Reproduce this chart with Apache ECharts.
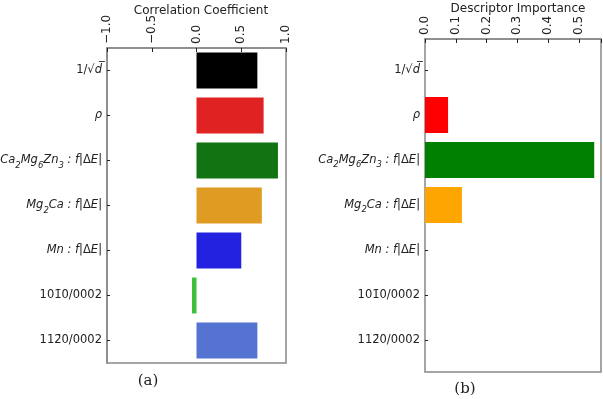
<!DOCTYPE html>
<html><head><meta charset="utf-8">
<script src="https://cdn.jsdelivr.net/npm/echarts@6/dist/echarts.min.js"></script>
<style>html,body{margin:0;padding:0;background:#fff}#c{width:603px;height:399px}</style>
</head><body><div id="c"></div>
<script>
const categories = ['invsqrtd','rho','ca2mg6zn3','mg2ca','mn','p1010','p1120'];
const categoryLabels = [
  '{n|1/√}{i|d̅}',
  '{i|ρ}',
  '{i|Ca}{s|2}{i|Mg}{s|6}{i|Zn}{s|3}{i| : f}{n||Δ}{i|E}{n||}',
  '{i|Mg}{s|2}{i|Ca : f}{n||Δ}{i|E}{n||}',
  '{i|Mn : f}{n||Δ}{i|E}{n||}',
  '{n|101̄0/0002}',
  '{n|112̄0/0002}'
];
const correlation = [0.68, 0.75, 0.91, 0.73, 0.50, -0.05, 0.68];
const importance = [0, 0.075, 0.55, 0.12, 0, 0, 0];
const corrColors = ['#000000','#e02222','#127312','#e09c22','#2222e0','#3fbf3f','#5573d0'];
const impColors = ['#ff0000','#ff0000','#008000','#ffa500','#0000ff','#00ff00','#4169e1'];
const corrTickStep = 0.5;
const impTickStep = 0.1;

const FONT = 'DejaVu Sans';
const rich = {
  n: {fontFamily: FONT, fontSize: 11.5, color: '#222'},
  i: {fontFamily: FONT, fontSize: 11.5, fontStyle: 'italic', color: '#222'},
  s: {fontFamily: FONT, fontSize: 8.5, fontStyle: 'italic', color: '#222', verticalAlign: 'bottom', lineHeight: 19}
};
const labelMap = {};
categories.forEach((c, i) => labelMap[c] = categoryLabels[i]);

const chart = echarts.init(document.getElementById('c'), null, {renderer: 'canvas'});
const spine = '#888';
const tickStyle = {color: '#222', width: 1};
const lineStyle = {color: spine, width: 1.5};
const option = {
  animation: false,
  backgroundColor: '#fff',
  grid: [
    {left: 107, top: 48, width: 179, height: 315, show: true, borderColor: spine, borderWidth: 1.5, backgroundColor: 'transparent', outerBoundsMode: 'none', containLabel: false},
    {left: 425, top: 39, width: 176, height: 333, show: true, borderColor: spine, borderWidth: 1.5, backgroundColor: 'transparent', outerBoundsMode: 'none', containLabel: false},
    {left: 425, top: 47.5, width: 176, height: 315, outerBoundsMode: 'none', containLabel: false}
  ],
  title: [
    {text: 'Correlation Coefficient', left: 196, top: 0, textAlign: 'center',
     textStyle: {fontFamily: FONT, fontSize: 12, fontWeight: 'normal', color: '#222'}},
    {text: 'Descriptor Importance', left: 513, top: -2, textAlign: 'center',
     textStyle: {fontFamily: FONT, fontSize: 12, fontWeight: 'normal', color: '#222'}},
    {text: '(a)', left: 143, top: 369, textAlign: 'center',
     textStyle: {fontFamily: 'DejaVu Serif', fontSize: 15, fontWeight: 'normal', color: '#222'}},
    {text: '(b)', left: 460, top: 377, textAlign: 'center',
     textStyle: {fontFamily: 'DejaVu Serif', fontSize: 15, fontWeight: 'normal', color: '#222'}}
  ],
  xAxis: [
    {gridIndex: 0, type: 'value', position: 'top', min: -1, max: 1, interval: corrTickStep,
     axisLine: {show: true, onZero: false, lineStyle: lineStyle}, splitLine: {show: false},
     axisTick: {show: false},
     axisLabel: {rotate: -90, margin: 4, fontFamily: FONT, fontSize: 12, color: '#222',
       formatter: v => (v < 0 ? '\u2212' : '') + Math.abs(v).toFixed(1)}},
    {gridIndex: 1, type: 'value', position: 'top', min: 0, max: 0.572, interval: impTickStep,
     axisLine: {show: true, onZero: false, lineStyle: lineStyle}, splitLine: {show: false},
     axisTick: {show: false},
     axisLabel: {rotate: -90, margin: 4, fontFamily: FONT, fontSize: 12, color: '#222', showMaxLabel: false,
       formatter: v => v > 0.55 ? '' : v.toFixed(1)}},
    {gridIndex: 2, type: 'value', min: 0, max: 0.572, show: false},
    // tick-only axes moved up onto the top spine, ticks pointing down into the plot
    {gridIndex: 0, type: 'value', position: 'bottom', offset: -315, min: -1, max: 1, interval: corrTickStep,
     axisLine: {show: false, onZero: false}, splitLine: {show: false}, axisLabel: {show: false},
     axisTick: {show: true, inside: false, length: 4, lineStyle: tickStyle}},
    {gridIndex: 1, type: 'value', position: 'bottom', offset: -333, min: 0, max: 0.572, interval: impTickStep,
     axisLine: {show: false, onZero: false}, splitLine: {show: false}, axisLabel: {show: false},
     axisTick: {show: true, inside: false, length: 4, lineStyle: tickStyle}}
  ],
  yAxis: [
    {gridIndex: 0, type: 'category', data: categories, inverse: true,
     axisLine: {show: true, onZero: false, lineStyle: lineStyle}, splitLine: {show: false},
     axisTick: {show: true, inside: true, length: 3, alignWithLabel: true, lineStyle: tickStyle},
     axisLabel: {margin: 5, formatter: v => labelMap[v], rich: rich}},
    {gridIndex: 1, type: 'value', min: 0, max: 1, show: false},
    {gridIndex: 2, type: 'category', data: categories, inverse: true,
     axisLine: {show: false, onZero: false}, splitLine: {show: false},
     axisTick: {show: true, inside: true, length: 3, alignWithLabel: true, lineStyle: tickStyle},
     axisLabel: {margin: 5, formatter: v => labelMap[v], rich: rich}}
  ],
  series: [
    {type: 'bar', xAxisIndex: 0, yAxisIndex: 0, barWidth: '80%',
     data: correlation.map((v, i) => ({value: v, itemStyle: {color: corrColors[i]}}))},
    {type: 'bar', xAxisIndex: 2, yAxisIndex: 2, barWidth: '80%',
     data: importance.map((v, i) => ({value: v, itemStyle: {color: impColors[i]}}))}
  ]
};
chart.setOption(option);
</script>
</body></html>
